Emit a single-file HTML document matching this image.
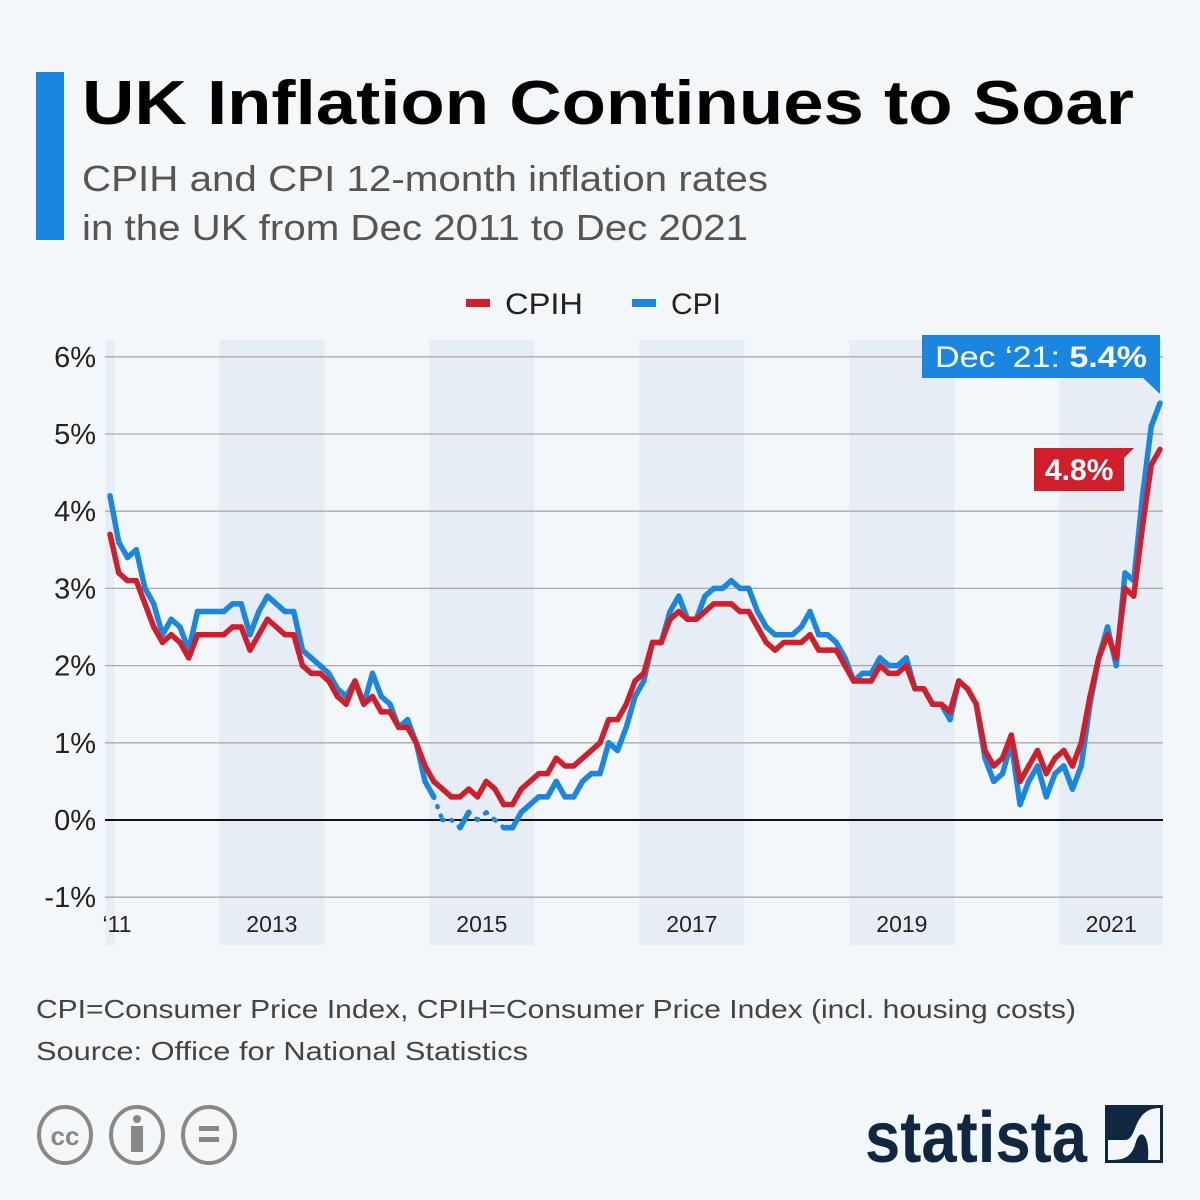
<!DOCTYPE html>
<html><head><meta charset="utf-8"><style>
body{margin:0;background:#f3f7fa;}
svg{display:block;font-family:"Liberation Sans","DejaVu Sans",sans-serif;}
</style></head><body>
<svg width="1200" height="1200" viewBox="0 0 1200 1200">
<rect width="1200" height="1200" fill="#f3f7fa"/>
<rect x="36" y="72" width="28" height="168" fill="#1a86e0"/>
<text x="82" y="124" font-size="62" font-weight="bold" fill="#000" textLength="1052" lengthAdjust="spacingAndGlyphs">UK Inflation Continues to Soar</text>
<text x="82" y="191" font-size="36" fill="#555" textLength="686" lengthAdjust="spacingAndGlyphs">CPIH and CPI 12-month inflation rates</text>
<text x="82" y="240" font-size="36" fill="#555" textLength="666" lengthAdjust="spacingAndGlyphs">in the UK from Dec 2011 to Dec 2021</text>
<g>
<g><rect x="466" y="299" width="24" height="8" fill="#d01f2b"/><text x="505" y="314" font-size="30" fill="#222" textLength="78" lengthAdjust="spacingAndGlyphs">CPIH</text></g>
<g><rect x="632" y="299" width="24" height="8" fill="#1a86e0"/><text x="671" y="314" font-size="30" fill="#222">CPI</text></g>
</g>
<g id="bands"></g><g id="grid"></g><g id="lines"></g>
<g>
<rect x="922" y="335" width="238" height="43" fill="#1a86e0"/>
<polygon points="1143,378 1160,378 1160,394" fill="#1a86e0"/>
<text x="935" y="367" font-size="30" fill="#fff" textLength="212" lengthAdjust="spacingAndGlyphs">Dec ‘21: <tspan font-weight="bold">5.4%</tspan></text>
</g>
<g>
<rect x="1034" y="448" width="90" height="43" fill="#d01f2b"/>
<polygon points="1124,448 1134,448 1124,458" fill="#d01f2b"/>
<text x="1045" y="480" font-size="30" font-weight="bold" fill="#fff">4.8%</text>
</g>
<text x="36" y="1018" font-size="26" fill="#444" textLength="1040" lengthAdjust="spacingAndGlyphs">CPI=Consumer Price Index, CPIH=Consumer Price Index (incl. housing costs)</text>
<text x="36" y="1060" font-size="26" fill="#444" textLength="492" lengthAdjust="spacingAndGlyphs">Source: Office for National Statistics</text>
<g fill="none" stroke="#888" stroke-width="4">
<ellipse cx="65" cy="1135" rx="26" ry="28"/><ellipse cx="137" cy="1135" rx="26" ry="28"/><ellipse cx="209" cy="1135" rx="26" ry="28"/>
</g>
<text x="65" y="1145" font-size="26" font-weight="bold" fill="#888" text-anchor="middle">cc</text>
<circle cx="137" cy="1119" r="4" fill="#888"/>
<rect x="131" y="1126" width="12" height="26" fill="#888"/>
<rect x="199" y="1126" width="20" height="5" fill="#888"/><rect x="199" y="1137" width="20" height="5" fill="#888"/>
<text x="865" y="1162" font-size="72" font-weight="bold" fill="#0f2740" textLength="222" lengthAdjust="spacingAndGlyphs">statista</text>
<rect x="1105" y="1105" width="58" height="58" fill="#0f2740"/>
<path d="M1108,1140 L1125,1140 C1138,1140 1132,1108 1160,1108 L1160,1160 L1148,1160 C1150,1135 1140,1125 1135,1145 C1130,1160 1120,1160 1108,1160 Z" fill="#f3f7fa"/>
</svg>
<script>
const cpi=[4.2,3.6,3.4,3.5,3.0,2.8,2.4,2.6,2.5,2.2,2.7,2.7,2.7,2.7,2.8,2.8,2.4,2.7,2.9,2.8,2.7,2.7,2.2,2.1,2.0,1.9,1.7,1.6,1.8,1.5,1.9,1.6,1.5,1.2,1.3,1.0,0.5,0.3,0.0,0.0,-0.1,0.1,0.0,0.1,0.0,-0.1,-0.1,0.1,0.2,0.3,0.3,0.5,0.3,0.3,0.5,0.6,0.6,1.0,0.9,1.2,1.6,1.8,2.3,2.3,2.7,2.9,2.6,2.6,2.9,3.0,3.0,3.1,3.0,3.0,2.7,2.5,2.4,2.4,2.4,2.5,2.7,2.4,2.4,2.3,2.1,1.8,1.9,1.9,2.1,2.0,2.0,2.1,1.7,1.7,1.5,1.5,1.3,1.8,1.7,1.5,0.8,0.5,0.6,1.0,0.2,0.5,0.7,0.3,0.6,0.7,0.4,0.7,1.5,2.1,2.5,2.0,3.2,3.1,4.2,5.1,5.4];
const cpih=[3.7,3.2,3.1,3.1,2.8,2.5,2.3,2.4,2.3,2.1,2.4,2.4,2.4,2.4,2.5,2.5,2.2,2.4,2.6,2.5,2.4,2.4,2.0,1.9,1.9,1.8,1.6,1.5,1.8,1.5,1.6,1.4,1.4,1.2,1.2,1.0,0.7,0.5,0.4,0.3,0.3,0.4,0.3,0.5,0.4,0.2,0.2,0.4,0.5,0.6,0.6,0.8,0.7,0.7,0.8,0.9,1.0,1.3,1.3,1.5,1.8,1.9,2.3,2.3,2.6,2.7,2.6,2.6,2.7,2.8,2.8,2.8,2.7,2.7,2.5,2.3,2.2,2.3,2.3,2.3,2.4,2.2,2.2,2.2,2.0,1.8,1.8,1.8,2.0,1.9,1.9,2.0,1.7,1.7,1.5,1.5,1.4,1.8,1.7,1.5,0.9,0.7,0.8,1.1,0.5,0.7,0.9,0.6,0.8,0.9,0.7,1.0,1.6,2.1,2.4,2.1,3.0,2.9,3.8,4.6,4.8];
const yTicks=[-1,0,1,2,3,4,5,6];
const yearLabels=["‘11","2013","2015","2017","2019","2021"];
const bandYears=[2011,2013,2015,2017,2019,2021];
const NS="http://www.w3.org/2000/svg";
const X=i=>110+i*8.75;
const Y=v=>820-v*77.2;
const mk=(t,a,p)=>{const e=document.createElementNS(NS,t);for(const k in a)e.setAttribute(k,a[k]);p.appendChild(e);return e;};
const bands=document.getElementById('bands'),grid=document.getElementById('grid'),lines=document.getElementById('lines');
bandYears.forEach((yr,k)=>{
 const i0=Math.max(0,(yr-2012)*12+1), i1=Math.min(120,(yr-2012)*12+12);
 const x0=X(i0)-4.4, x1=Math.min(1163,X(i1)+4.4);
 const r=mk('rect',{x:x0,y:340,width:x1-x0,height:605,fill:'#e7edf4'},bands);
 
 
 const t=mk('text',{x:k==0?117:(x0+x1)/2,y:932,'font-size':23,fill:'#222','text-anchor':'middle'},bands);
 t.textContent=yearLabels[k];
 
 
});
yTicks.forEach(v=>{
 const l=mk('line',{x1:105,x2:1163,y1:Y(v),y2:Y(v),stroke:v==0?'#111':'#aaa','stroke-width':v==0?2:1.3},grid);
 
 
 const t=mk('text',{x:96,y:Y(v)+10,'font-size':29,fill:'#222','text-anchor':'end'},grid);
 t.textContent=v+'%';
 
 
});
function draw(data,color,name,dotZero){
 const g=mk('g',{},lines);
 
 
 for(let i=0;i<data.length-1;i++){
  const dotted=dotZero&&(data[i]===0||data[i+1]===0);
  const a={x1:X(i),y1:Y(data[i]),x2:X(i+1),y2:Y(data[i+1]),stroke:color,'stroke-width':5.5,'stroke-linecap':'round'};
  if(dotted){a['stroke-dasharray']='1 9';a['stroke-width']=4.5;}
  mk('line',a,g);
 }
}
draw(cpi,'#1a86e0','cpi',true);
draw(cpih,'#d01f2b','cpih',false);
</script>
</body></html>
